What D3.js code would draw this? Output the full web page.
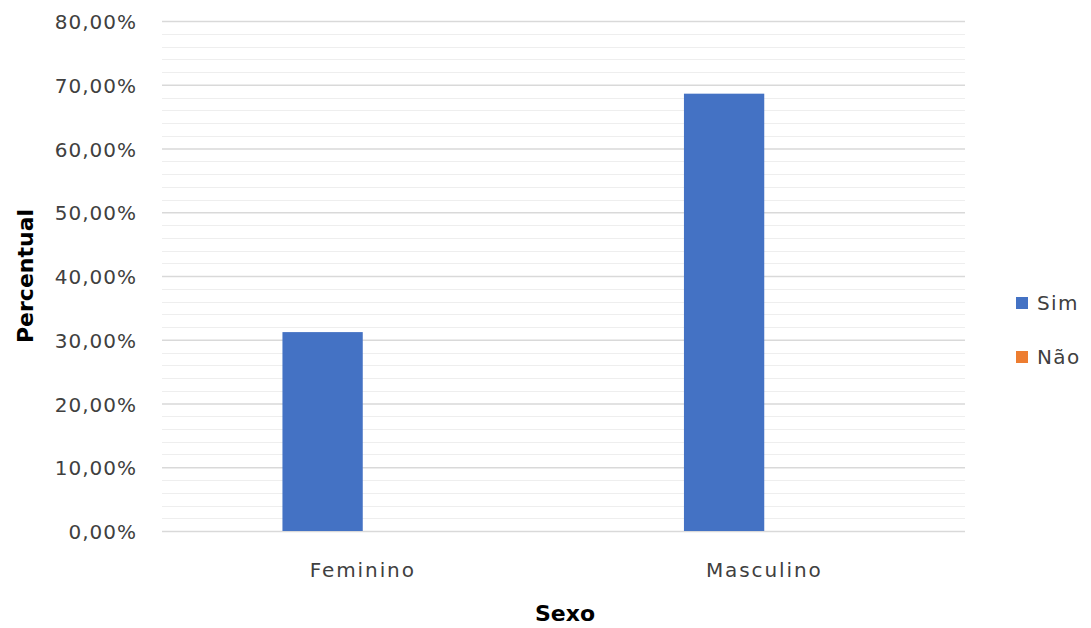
<!DOCTYPE html>
<html><head><meta charset="utf-8">
<script src="https://cdn.jsdelivr.net/npm/d3@7"></script>
<style>body{margin:0;background:#fff}svg{display:block}</style>
</head><body>
<script>
const categories = ["Feminino", "Masculino"];
const seriesNames = ["Sim", "Não"];
const simValues = [31.2, 68.6];
const naoValues = [0, 0];
const yTicks = [0, 10, 20, 30, 40, 50, 60, 70, 80];
const colors = ["#4472C4", "#ED7D31"];

const W = 1091, H = 628;
const m = {left: 162, right: 1091 - 965, top: 21, bottom: 628 - 531};
const font = "'DejaVu Sans', sans-serif";
const svg = d3.select("body").append("svg").attr("width", W).attr("height", H);

const x0 = d3.scaleBand().domain(categories).range([m.left, W - m.right]).paddingInner(0.6).paddingOuter(0.3);
const x1 = d3.scaleBand().domain(seriesNames).range([0, x0.bandwidth()]);
const y = d3.scaleLinear().domain([0, 80]).range([H - m.bottom, m.top]);

// minor gridlines
const minor = d3.range(0, 81, 2).filter(v => v % 10 !== 0);
svg.append("g").selectAll("line").data(minor).join("line")
  .attr("x1", m.left).attr("x2", W - m.right)
  .attr("y1", d => Math.round(y(d)) + 0.5).attr("y2", d => Math.round(y(d)) + 0.5)
  .attr("stroke", "#eeeeee").attr("stroke-width", 1);

// y axis with major gridlines
const yAxis = svg.append("g").attr("transform", `translate(${m.left},0)`)
  .call(d3.axisLeft(y).tickValues(yTicks).tickSize(-(W - m.right - m.left)).tickPadding(25)
    .tickFormat(d => d.toFixed(2).replace(".", ",") + "%"));
yAxis.select(".domain").remove();
yAxis.selectAll(".tick line").attr("stroke", "#d9d9d9").attr("stroke-width", 1.3);
yAxis.selectAll(".tick text").attr("fill", "#404040").attr("dy", "0.38em")
  .style("font-family", font).style("font-size", "20px").style("letter-spacing", "1px");

// bars
const data = categories.map((c, i) => ({cat: c, vals: [simValues[i], naoValues[i]]}));
const groups = svg.append("g").selectAll("g").data(data).join("g")
  .attr("transform", d => `translate(${x0(d.cat)},0)`);
groups.selectAll("rect").data(d => d.vals.map((v, j) => ({name: seriesNames[j], v, j})))
  .join("rect")
  .attr("x", d => x1(d.name)).attr("width", x1.bandwidth())
  .attr("y", d => y(d.v)).attr("height", d => y(0) - y(d.v))
  .attr("fill", d => colors[d.j]);

// x axis labels
const xAxis = svg.append("g").attr("transform", `translate(0,${H - m.bottom})`)
  .call(d3.axisBottom(x0).tickSize(0).tickPadding(32));
xAxis.select(".domain").remove();
xAxis.selectAll(".tick text").attr("fill", "#404040")
  .style("font-family", font).style("font-size", "20px").style("letter-spacing", "1.9px");

// axis titles
svg.append("text").attr("x", 565).attr("y", 621).attr("text-anchor", "middle")
  .attr("fill", "#000").style("font-family", font).style("font-size", "22px").style("font-weight", "bold").text("Sexo");
svg.append("text").attr("transform", "translate(33,276) rotate(-90)").attr("text-anchor", "middle")
  .attr("fill", "#000").style("font-family", font).style("font-size", "22px").style("font-weight", "bold").text("Percentual");

// legend
const lg = svg.append("g").selectAll("g").data(seriesNames).join("g")
  .attr("transform", (d, i) => `translate(1016,${297 + i * 54})`);
lg.append("rect").attr("width", 12).attr("height", 12).attr("fill", (d, i) => colors[i]);
lg.append("text").attr("x", 21).attr("y", 6).attr("dy", "0.36em").attr("fill", "#404040")
  .style("font-family", font).style("font-size", "20px").style("letter-spacing", "1.4px").text(d => d);
</script>
</body></html>
